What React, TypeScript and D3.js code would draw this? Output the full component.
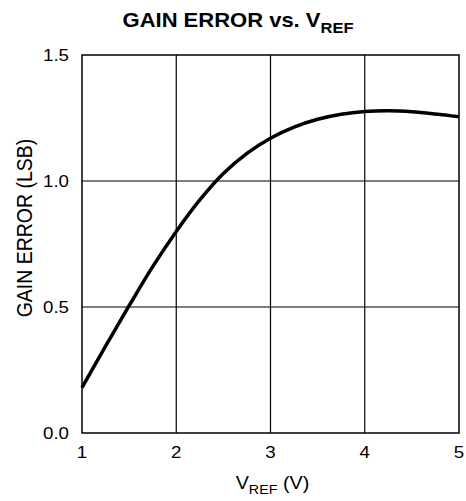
import React from "react";
import * as d3 from "d3";

const vref = [1.0, 1.25, 1.5, 1.75, 2.0, 2.25, 2.5, 2.75, 3.0, 3.25, 3.5, 3.75, 4.0, 4.25, 4.5, 4.75, 5.0];
const gainError = [0.18, 0.345, 0.505, 0.66, 0.8, 0.925, 1.03, 1.11, 1.17, 1.214, 1.245, 1.265, 1.276, 1.279, 1.275, 1.266, 1.255];
const xTicks = [1, 2, 3, 4, 5];
const yTicks = [0, 0.5, 1.0, 1.5];

const SX = 1.1;

export default function App() {
  const W = 466, H = 501;
  const left = 82, right = 459, top = 55, bottom = 433;
  const x = d3.scaleLinear().domain([1, 5]).range([left, right]);
  const y = d3.scaleLinear().domain([0, 1.5]).range([bottom, top]);
  const pts = vref.map((v, i) => [v, gainError[i]] as [number, number]);
  const line = d3.line<[number, number]>().x(d => x(d[0])).y(d => y(d[1])).curve(d3.curveCatmullRom);
  const font = "'Liberation Sans', Arial, sans-serif";
  const cx = (left + right) / 2;
  return (
    <svg width={W} height={H} style={{ position: "absolute", left: 0, top: 0 }} fontFamily={font}>
      <rect x={0} y={0} width={W} height={H} fill="#fff" />
      <text transform={`translate(238,27) scale(${SX},1)`} textAnchor="middle" fontSize={20} fontWeight="bold">
        GAIN ERROR vs. V<tspan fontSize={15} dy={6}>REF</tspan>
      </text>
      {xTicks.slice(1, -1).map(t => (
        <line key={"gx" + t} x1={x(t)} x2={x(t)} y1={top} y2={bottom} stroke="#000" strokeWidth={1.2} />
      ))}
      {yTicks.slice(1, -1).map(t => (
        <line key={"gy" + t} x1={left} x2={right} y1={y(t)} y2={y(t)} stroke="#000" strokeWidth={1.2} />
      ))}
      <rect x={left} y={top} width={right - left} height={bottom - top} fill="none" stroke="#000" strokeWidth={1.5} />
      <path d={line(pts) || ""} fill="none" stroke="#000" strokeWidth={3.5} />
      {yTicks.map(t => (
        <text key={"yl" + t} transform={`translate(69,${y(t) + 6}) scale(${SX},1)`} textAnchor="end" fontSize={17}>{t.toFixed(1)}</text>
      ))}
      {xTicks.map(t => (
        <text key={"xl" + t} transform={`translate(${x(t)},458) scale(${SX},1)`} textAnchor="middle" fontSize={17}>{t}</text>
      ))}
      <text transform={`translate(${cx + 2},489) scale(${SX},1)`} textAnchor="middle" fontSize={18}>
        V<tspan fontSize={13} dy={5}>REF</tspan><tspan dy={-5} fontSize={18}> (V)</tspan>
      </text>
      <text transform={`translate(32,228) scale(${SX},1) rotate(-90)`} textAnchor="middle" fontSize={19.5}>
        GAIN ERROR (LSB)
      </text>
    </svg>
  );
}
